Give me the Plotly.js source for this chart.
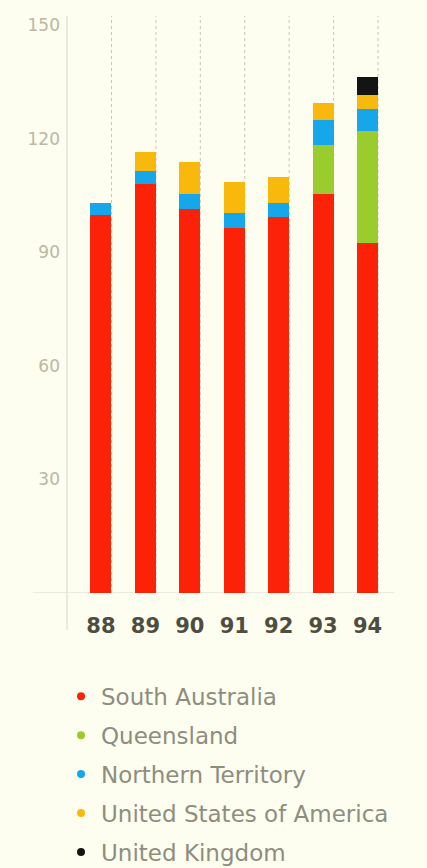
<!DOCTYPE html>
<html>
<head>
<meta charset="utf-8">
<script src="https://cdn.plot.ly/plotly-3.0.1.min.js"></script>
<style>
  html, body { margin: 0; padding: 0; background: #fdfdf0; }
  #chart { width: 427px; height: 868px; }
</style>
</head>
<body>
<div id="chart"></div>
<script>
// ---- data ----
const years = [88, 89, 90, 91, 92, 93, 94];
const yearLabels = ["88", "89", "90", "91", "92", "93", "94"];
const southAustralia = [100, 108, 101.5, 96.5, 99.5, 105.5, 92.5];
const queensland = [null, null, null, null, null, 13, 29.5];
const northernTerritory = [3, 3.5, 4, 4, 3.5, 6.5, 6];
const unitedStates = [null, 5, 8.5, 8, 7, 4.5, 3.5];
const unitedKingdom = [null, null, null, null, null, null, 5];
const seriesNames = ["South Australia", "Queensland", "Northern Territory", "United States of America", "United Kingdom"];
const seriesColors = ["#fb2208", "#9bcc2e", "#16a6ea", "#f9b80c", "#141414"];
const yTicks = [30, 60, 90, 120, 150];

// ---- styling ----
const barWidth = 0.473;
const bg = "#fdfdf0";
const seriesValues = [southAustralia, queensland, northernTerritory, unitedStates, unitedKingdom];

const traces = [];
seriesValues.forEach((vals, i) => {
  traces.push({
    type: "bar",
    x: years,
    y: vals,
    width: barWidth,
    name: seriesNames[i],
    marker: { color: seriesColors[i], line: { width: 0 } },
    showlegend: false,
    hoverinfo: "skip"
  });
});
// legend entries with round markers
seriesNames.forEach((name, i) => {
  traces.push({
    type: "scatter",
    mode: "markers",
    x: [null],
    y: [null],
    name: name,
    legendgroup: "g" + i,
    marker: { color: seriesColors[i], size: 8, symbol: "circle" },
    showlegend: true
  });
});

// dotted vertical guide lines at the right edge of each bar
const shapes = years.map(yr => ({
  type: "line", layer: "below",
  xref: "x", yref: "paper",
  x0: yr + barWidth / 2, x1: yr + barWidth / 2, y0: 0, y1: 1,
  line: { color: "#c9c6b0", width: 1, dash: "dot" }
}));
// baseline extending left of the axis
shapes.push({
  type: "line", layer: "below", xref: "paper", yref: "y",
  x0: -0.104, x1: 1, y0: 0, y1: 0,
  line: { color: "#dcdac8", width: 1.2 }
});
// left axis line extending below baseline
shapes.push({
  type: "line", layer: "below", xref: "paper", yref: "paper",
  x0: 0, x1: 0, y0: -0.064, y1: 1,
  line: { color: "#e6e4d2", width: 1.5 }
});

const layout = {
  width: 427,
  height: 868,
  paper_bgcolor: bg,
  plot_bgcolor: bg,
  margin: { l: 67, r: 32, t: 16, b: 275, autoexpand: false },
  barmode: "stack",
  showlegend: true,
  hovermode: false,
  xaxis: {
    range: [87.235, 94.619],
    tickvals: years,
    ticktext: yearLabels,
    showgrid: false,
    zeroline: false,
    showline: false,
    ticks: "",
    ticklabelstandoff: 18,
    tickfont: { family: "DejaVu Sans", size: 21, color: "#4e4e40", weight: "bold" },
    fixedrange: true
  },
  yaxis: {
    range: [0, 152.5],
    tickvals: yTicks,
    showgrid: false,
    zeroline: false,
    showline: false,
    ticks: "",
    ticklabelstandoff: 6,
    tickfont: { family: "DejaVu Sans", size: 17, color: "#bab8a3" },
    fixedrange: true
  },
  shapes: shapes,
  legend: {
    x: 0.1429, xanchor: "left",
    y: 0.2225, yanchor: "top",
    xref: "container", yref: "container",
    traceorder: "grouped",
    tracegroupgap: 6,
    bgcolor: "rgba(0,0,0,0)",
    font: { family: "DejaVu Sans", size: 23, color: "#8e8e7e" }
  }
};

Plotly.newPlot("chart", traces, layout, { staticPlot: true, displayModeBar: false });
</script>
</body>
</html>
